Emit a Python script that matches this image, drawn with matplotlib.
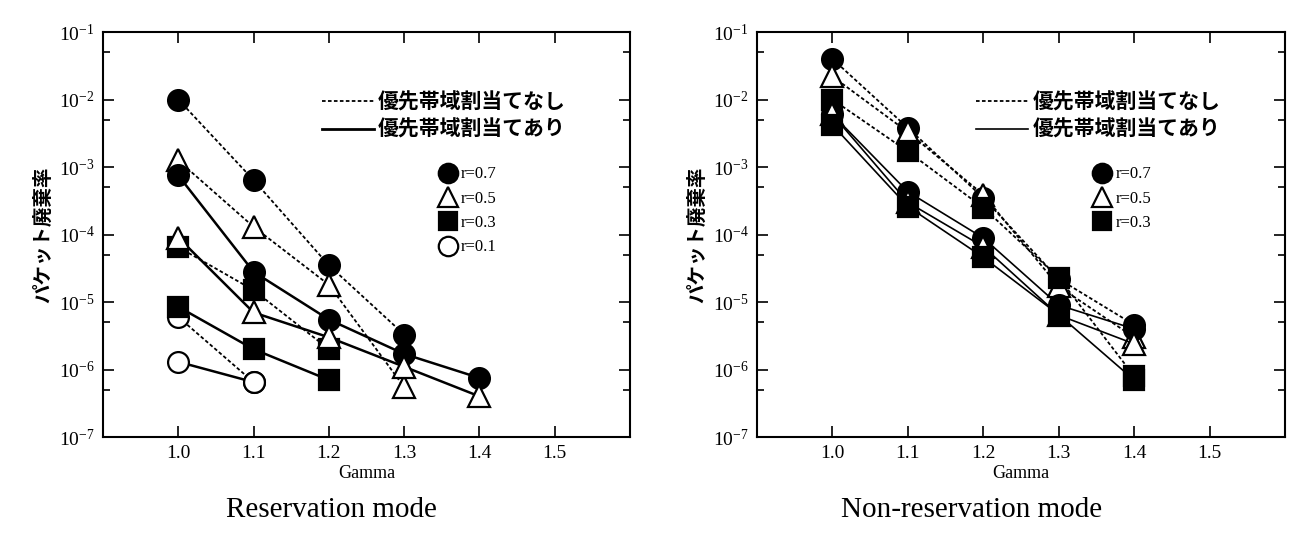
import numpy as np
import matplotlib
matplotlib.use('Agg')
import matplotlib.pyplot as plt
from matplotlib.lines import Line2D
from matplotlib.ticker import LogLocator, FixedLocator, NullFormatter

plt.rcParams['font.family'] = ['Liberation Serif', 'DejaVu Serif']
plt.rcParams['mathtext.fontset'] = 'stix'
JP = ['Noto Sans CJK JP', 'DejaVu Sans']

GAMMA = [1.0, 1.1, 1.2, 1.3, 1.4]
R_LABELS = ['r=0.7', 'r=0.5', 'r=0.3', 'r=0.1']

# Reservation mode: dashed = no priority bandwidth, solid = with priority
res_nopri_07 = [1.0e-2, 6.4e-4, 3.5e-5, 3.3e-6]
res_nopri_05 = [1.25e-3, 1.3e-4, 1.8e-5, 5.5e-7]
res_nopri_03 = [6.5e-5, 1.5e-5, 2.0e-6]
res_nopri_01 = [6.0e-6, 6.5e-7]
res_pri_07 = [7.5e-4, 2.8e-5, 5.5e-6, 1.7e-6, 7.5e-7]
res_pri_05 = [9.0e-5, 7.0e-6, 3.0e-6, 1.1e-6, 4.0e-7]
res_pri_03 = [8.5e-6, 2.0e-6, 7.0e-7]
res_pri_01 = [1.3e-6, 6.5e-7]

# Non-reservation mode
non_nopri_07 = [4.0e-2, 3.8e-3, 3.5e-4, 2.2e-5, 4.6e-6]
non_nopri_05 = [2.2e-2, 3.3e-3, 3.9e-4, 1.7e-5, 3.0e-6]
non_nopri_03 = [1.0e-2, 1.7e-3, 2.5e-4, 2.3e-5, 8.0e-7]
non_pri_07 = [6.0e-3, 4.3e-4, 8.9e-5, 9.0e-6, 4.0e-6]
non_pri_05 = [6.0e-3, 3.0e-4, 6.6e-5, 6.4e-6, 2.4e-6]
non_pri_03 = [4.2e-3, 2.6e-4, 4.6e-5, 6.5e-6, 7.0e-7]

MARKERS = {'r=0.7': ('o', 'black', 15), 'r=0.5': ('^', 'white', 16),
           'r=0.3': ('s', 'black', 14), 'r=0.1': ('o', 'white', 15)}
DASH = (0, (2.0, 1.3))


def series(ax, vals, label, ls, lw):
    m, fc, ms = MARKERS[label]
    ax.plot(GAMMA[:len(vals)], vals, linestyle=ls, color='black', lw=lw,
            marker=m, markerfacecolor=fc, markeredgecolor='black',
            markersize=ms, markeredgewidth=1.6, clip_on=False)


def style(ax, title, title_x, labels, solid_lw):
    ax.set_yscale('log')
    ax.set_ylim(1e-7, 1e-1)
    ax.set_xlim(0.9, 1.6)
    ax.xaxis.set_major_locator(FixedLocator([1.0, 1.1, 1.2, 1.3, 1.4, 1.5]))
    ax.set_xticklabels(['1.0', '1.1', '1.2', '1.3', '1.4', '1.5'])
    ax.yaxis.set_major_locator(LogLocator(base=10, numticks=10))
    ax.yaxis.set_minor_locator(LogLocator(base=10, subs=[5.0], numticks=10))
    ax.yaxis.set_minor_formatter(NullFormatter())
    ax.tick_params(which='both', direction='in', top=True, right=True,
                   width=1.2, labelsize=14)
    ax.tick_params(which='major', length=8, pad=6)
    ax.tick_params(which='minor', length=5)
    for s in ax.spines.values():
        s.set_linewidth(1.5)
    ax.set_xlabel('Gamma', fontsize=13, labelpad=2)
    ax.set_ylabel('パケット廃棄率', family=JP, fontsize=14, weight='bold',
                  labelpad=4)
    ax.text(title_x, -0.18, title, transform=ax.transAxes, ha='center',
            va='center', fontsize=21)

    line_h = [Line2D([0], [0], color='black', ls=DASH, lw=1.3),
              Line2D([0], [0], color='black', ls='-', lw=solid_lw)]
    leg1 = ax.legend(line_h, ['優先帯域割当てなし', '優先帯域割当てあり'],
                     loc='upper left', bbox_to_anchor=(0.415, 0.853),
                     frameon=False,
                     prop={'family': JP, 'size': 15, 'weight': 'bold'},
                     handlelength=2.5, handletextpad=0.2, labelspacing=0.3,
                     borderpad=0, borderaxespad=0)
    ax.add_artist(leg1)
    mk_h = []
    for lab in labels:
        m, fc, ms = MARKERS[lab]
        mk_h.append(Line2D([0], [0], ls='none', marker=m, markerfacecolor=fc,
                           markeredgecolor='black', markersize=ms - 1,
                           markeredgewidth=1.6))
    ax.legend(mk_h, labels, loc='upper left', bbox_to_anchor=(0.638, 0.668),
              frameon=False, fontsize=12, handlelength=1.0,
              handletextpad=0.3, labelspacing=0.5, borderpad=0,
              borderaxespad=0)


fig = plt.figure(figsize=(12.94, 5.40), dpi=100)
ax1 = fig.add_axes([0.0796, 0.1907, 0.4073, 0.75])
ax2 = fig.add_axes([0.585, 0.1907, 0.408, 0.75])

for vals, lab in [(res_nopri_07, 'r=0.7'), (res_nopri_05, 'r=0.5'),
                  (res_nopri_03, 'r=0.3'), (res_nopri_01, 'r=0.1')]:
    series(ax1, vals, lab, DASH, 1.3)
for vals, lab in [(res_pri_07, 'r=0.7'), (res_pri_05, 'r=0.5'),
                  (res_pri_03, 'r=0.3'), (res_pri_01, 'r=0.1')]:
    series(ax1, vals, lab, '-', 1.8)
style(ax1, 'Reservation mode', 0.433, R_LABELS, 2.0)

for vals, lab in [(non_nopri_07, 'r=0.7'), (non_nopri_05, 'r=0.5'),
                  (non_nopri_03, 'r=0.3')]:
    series(ax2, vals, lab, DASH, 1.3)
for vals, lab in [(non_pri_07, 'r=0.7'), (non_pri_05, 'r=0.5'),
                  (non_pri_03, 'r=0.3')]:
    series(ax2, vals, lab, '-', 1.2)
style(ax2, 'Non-reservation mode', 0.407, R_LABELS[:3], 1.2)

fig.savefig('out.png', dpi=100)
